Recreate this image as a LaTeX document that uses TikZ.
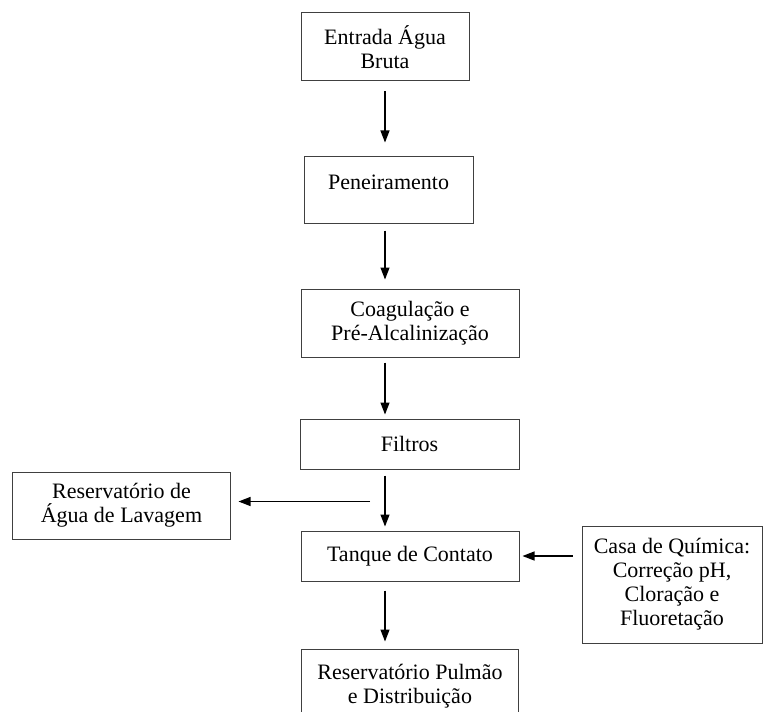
\documentclass[tikz,border=0pt]{standalone}
\usepackage{fontspec}
\setmainfont{Liberation Serif}
\usepackage{tikz}
\usetikzlibrary{arrows.meta}
\tikzstyle{stage} = [rectangle, 
minimum width=109pt, 
minimum height=34pt, 
inner sep=0pt, 
text centered, 
align=center, 
font=\fontsize{11}{12}\selectfont, 
draw=black!75, 
line width=0.5pt]
\tikzstyle{arrow} = [line width=0.6pt,-{Triangle[length=6pt,width=4.5pt]}]

\begin{document}
\begin{tikzpicture}[node distance=60pt]

\useasboundingbox (-192.5pt,23.5pt) rectangle (189pt,-332pt);
\clip (-192.5pt,23.5pt) rectangle (189pt,-332pt);

\node (entrada) [stage, minimum width=84pt] {Entrada Água\\
Bruta};
\node (peneira) [stage, below of=entrada, xshift=1.75pt, yshift=-11.5pt, minimum width=84.5pt, minimum height=33pt, text depth=8pt] {Peneiramento};
\node (coag) [stage, below of=peneira, xshift=10.75pt, yshift=-6.5pt] {Coagulação e\\
Pré-Alcalinização};
\node (filtros) [stage, below of=coag, xshift=-0.25pt, yshift=-0.5pt, minimum width=109.5pt, minimum height=25pt] {Filtros};
\node (tanque) [stage, below of=filtros, xshift=0.25pt, yshift=4pt, minimum height=25pt] {Tanque de Contato};
\node (pulmao) [stage, below of=tanque, yshift=-5pt, minimum width=108.5pt, minimum height=37pt] {Reservatório Pulmão\\
e Distribuição};
\node (lavagem) [stage, left of=tanque, xshift=-84.25pt, yshift=25.25pt, minimum width=108.5pt, minimum height=33.5pt] {Reservatório de\\
Água de Lavagem};
\node (casa) [stage, right of=tanque, xshift=71pt, yshift=-14.25pt, minimum width=90pt, minimum height=58.5pt] {Casa de Química:\\
Correção pH,\\
Cloração e\\
Fluoretação};

\draw [arrow] ([yshift=-5pt]entrada.south) -- ([yshift=7pt]peneira.north -| entrada.south);
\draw [arrow] ([yshift=-3.5pt]peneira.south -| entrada.south) -- ([yshift=4.5pt]coag.north -| entrada.south);
\draw [arrow] ([yshift=-2.5pt]coag.south -| entrada.south) -- ([yshift=2pt]filtros.north -| entrada.south);
\draw [arrow] ([yshift=-3pt]filtros.south -| entrada.south) -- ([yshift=2pt]tanque.north -| entrada.south);
\draw [arrow] ([yshift=-4.5pt]tanque.south -| entrada.south) -- ([yshift=3.5pt]pulmao.north -| entrada.south);

% wash water branch
\coordinate (lavagem_out) at ([xshift=-7.5pt,yshift=-16pt]filtros.south -| entrada.south);
\draw [arrow] (lavagem_out) -- ([xshift=4pt]lavagem.east |- lavagem_out);

% dosing from the chemical house
\draw [arrow] ([xshift=-4.5pt]casa.west |- tanque.east) -- ([xshift=1.5pt]tanque.east);

\end{tikzpicture}
\end{document}
